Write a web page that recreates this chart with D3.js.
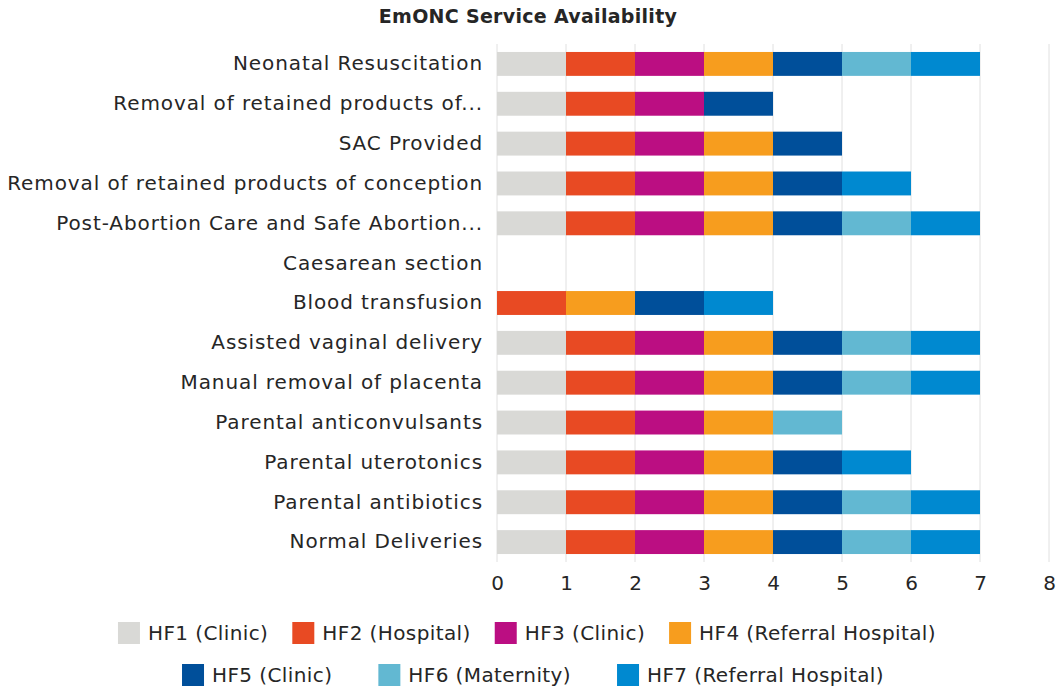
<!DOCTYPE html>
<html>
<head>
<meta charset="utf-8">
<script src="https://cdn.jsdelivr.net/npm/d3@7"></script>
<style>
  body { margin: 0; background: #fff; }
  text { font-family: "DejaVu Sans", sans-serif; fill: #262626; }
</style>
</head>
<body>
<div id="chart"></div>
<script>
// Categories, top to bottom
var services = [
  "Neonatal Resuscitation",
  "Removal of retained products of...",
  "SAC Provided",
  "Removal of retained products of conception",
  "Post-Abortion Care and Safe Abortion...",
  "Caesarean section",
  "Blood transfusion",
  "Assisted vaginal delivery",
  "Manual removal of placenta",
  "Parental anticonvulsants",
  "Parental uterotonics",
  "Parental antibiotics",
  "Normal Deliveries"
];

var facilities = ["HF1 (Clinic)", "HF2 (Hospital)", "HF3 (Clinic)", "HF4 (Referral Hospital)",
                  "HF5 (Clinic)", "HF6 (Maternity)", "HF7 (Referral Hospital)"];

var facilityColors = ["#d9d9d6", "#e84a23", "#bb0e82", "#f79d1e", "#004f9a", "#62b8d2", "#0089d0"];

// availability per facility, one value per service (same order as services)
var hf1 = [1, 1, 1, 1, 1, 0, 0, 1, 1, 1, 1, 1, 1];
var hf2 = [1, 1, 1, 1, 1, 0, 1, 1, 1, 1, 1, 1, 1];
var hf3 = [1, 1, 1, 1, 1, 0, 0, 1, 1, 1, 1, 1, 1];
var hf4 = [1, 0, 1, 1, 1, 0, 1, 1, 1, 1, 1, 1, 1];
var hf5 = [1, 1, 1, 1, 1, 0, 1, 1, 1, 0, 1, 1, 1];
var hf6 = [1, 0, 0, 0, 1, 0, 0, 1, 1, 1, 0, 1, 1];
var hf7 = [1, 0, 0, 1, 1, 0, 1, 1, 1, 0, 1, 1, 1];

var xTicks = [0, 1, 2, 3, 4, 5, 6, 7, 8];

var seriesValues = [hf1, hf2, hf3, hf4, hf5, hf6, hf7];

var svgWidth = 1057;
var svgHeight = 688;
var margin = { top: 44, right: 8, bottom: 126, left: 497 };
var chartWidth = 1049 - margin.left;
var chartHeight = 562 - margin.top;

var svg = d3.select("#chart")
  .append("svg")
  .attr("width", svgWidth)
  .attr("height", svgHeight);

// title
svg.append("text")
  .attr("x", 528)
  .attr("y", 23)
  .attr("text-anchor", "middle")
  .style("font-size", "19px")
  .style("letter-spacing", "0.3px")
  .style("font-weight", "bold")
  .text("EmONC Service Availability");

var chartGroup = svg.append("g")
  .attr("transform", `translate(${margin.left}, ${margin.top})`);

// table for stacking
var table = services.map(function(s, i) {
  var row = { service: s };
  facilities.forEach(function(f, j) { row[f] = seriesValues[j][i]; });
  return row;
});

var stacked = d3.stack().keys(facilities)(table);

var xScale = d3.scaleLinear()
  .domain([0, 8])
  .range([0, chartWidth]);

var yScale = d3.scaleBand()
  .domain(services)
  .range([0, chartHeight])
  .paddingInner(0.4)
  .paddingOuter(0.2);

// gridlines
chartGroup.append("g")
  .selectAll("line")
  .data(xTicks)
  .enter()
  .append("line")
  .attr("x1", d => xScale(d))
  .attr("x2", d => xScale(d))
  .attr("y1", 0)
  .attr("y2", chartHeight)
  .attr("stroke", "#e0e0e0")
  .attr("stroke-width", 1);

// bars
var colorScale = d3.scaleOrdinal().domain(facilities).range(facilityColors);

chartGroup.selectAll("g.layer")
  .data(stacked)
  .enter()
  .append("g")
  .attr("class", "layer")
  .attr("fill", d => colorScale(d.key))
  .selectAll("rect")
  .data(d => d.filter(p => p[1] > p[0]))
  .enter()
  .append("rect")
  .attr("x", d => xScale(d[0]))
  .attr("width", d => xScale(d[1]) - xScale(d[0]))
  .attr("y", d => yScale(d.data.service))
  .attr("height", yScale.bandwidth());

// x axis
var bottomAxis = d3.axisBottom(xScale)
  .tickValues(xTicks)
  .tickSize(0)
  .tickPadding(14)
  .tickFormat(d3.format("d"));

var xAxisG = chartGroup.append("g")
  .attr("transform", `translate(0, ${chartHeight})`)
  .call(bottomAxis);
xAxisG.select(".domain").remove();
xAxisG.selectAll("text")
  .style("font-size", "20px")
  .attr("fill", "#262626");

// y axis
var leftAxis = d3.axisLeft(yScale).tickSize(0).tickPadding(14);
var yAxisG = chartGroup.append("g").call(leftAxis);
yAxisG.select(".domain").remove();
yAxisG.selectAll("text")
  .style("font-size", "20px")
  .style("letter-spacing", "0.9px")
  .attr("fill", "#262626");

// legend, two centred rows
var legendRows = [facilities.slice(0, 4), facilities.slice(4)];
var rowY = [633, 675];
var rowGap = [24, 46];
var sw = 22;

legendRows.forEach(function(items, r) {
  var row = svg.append("g");
  var x = 0;
  items.forEach(function(name) {
    var item = row.append("g").attr("transform", `translate(${x}, 0)`);
    item.append("rect")
      .attr("x", 0)
      .attr("y", -sw / 2)
      .attr("width", sw)
      .attr("height", sw)
      .attr("fill", colorScale(name));
    var t = item.append("text")
      .attr("x", sw + 8)
      .attr("dy", "0.35em")
      .style("font-size", "20px")
      .style("letter-spacing", "0.4px")
      .text(name);
    x += sw + 8 + t.node().getComputedTextLength() + rowGap[r];
  });
  var w = x - rowGap[r];
  var cx = r === 0 ? 527 : 533;
  row.attr("transform", `translate(${cx - w / 2}, ${rowY[r]})`);
});
</script>
</body>
</html>
